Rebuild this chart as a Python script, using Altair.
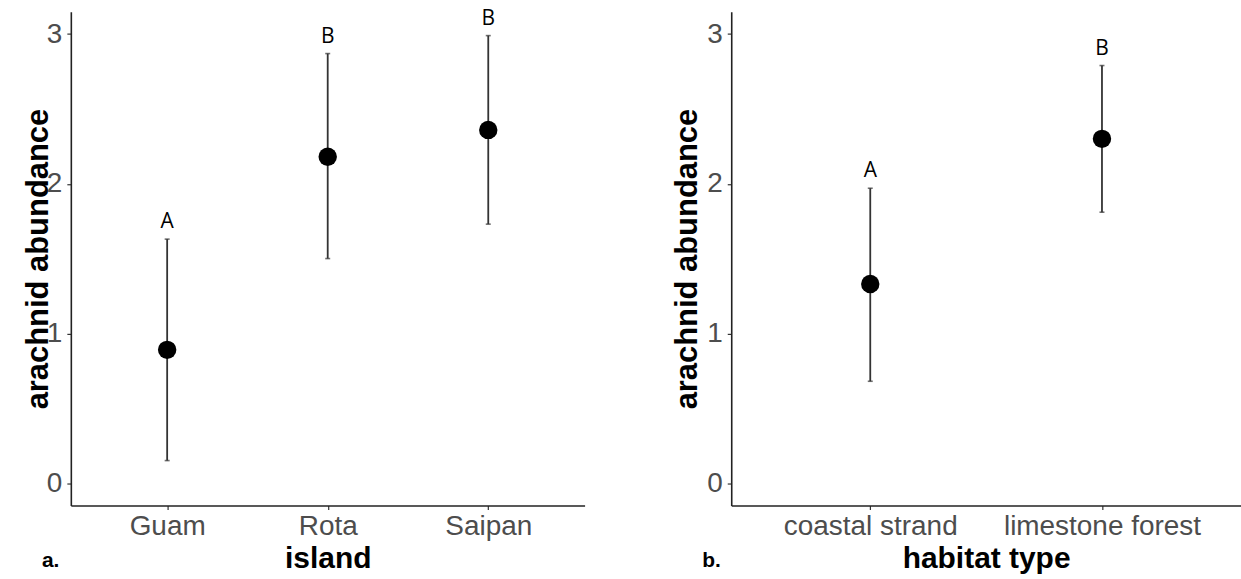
import altair as alt
import pandas as pd

# ---- data ----
islands = ["Guam", "Rota", "Saipan"]
island_mean = [0.89, 2.18, 2.36]
island_lower = [0.15, 1.50, 1.73]
island_upper = [1.63, 2.87, 2.99]
island_letters = ["A", "B", "B"]

habitats = ["coastal strand", "limestone forest"]
habitat_mean = [1.33, 2.30]
habitat_lower = [0.68, 1.81]
habitat_upper = [1.97, 2.79]
habitat_letters = ["A", "B"]

y_ticks = [0, 1, 2, 3]

LABEL_FONT = "Liberation Sans"
H = 495


def panel(cats, mean, lower, upper, letters, xtitle, tag, width, title_x):
    df = pd.DataFrame({"cat": cats, "mean": mean, "lower": lower,
                       "upper": upper, "letter": letters})
    x = alt.X("cat:N", sort=cats,
              scale=alt.Scale(type="point", padding=0.6, domain=cats),
              axis=alt.Axis(title=xtitle, labelAngle=0, labelFontSize=28,
                            labelFont=LABEL_FONT, labelColor="#4D4D4D",
                            labelBaseline="alphabetic", labelPadding=25,
                            labelLimit=0,
                            tickSize=4, tickColor="#333333", tickWidth=1.2,
                            domainColor="#222222", domainWidth=1.6,
                            titleFont=LABEL_FONT, titleFontSize=30,
                            titleFontWeight="bold", titleColor="black",
                            titleBaseline="alphabetic", titleY=62))
    yscale = alt.Scale(domain=[-0.15, 3.15], nice=False, zero=False)
    yaxis = alt.Axis(title="arachnid abundance", values=y_ticks, grid=False,
                     format="d", labelFontSize=28, labelFont=LABEL_FONT,
                     labelColor="#4D4D4D", labelPadding=5,
                     tickSize=4, tickColor="#333333", tickWidth=1.2,
                     domainColor="#222222", domainWidth=1.6,
                     titleFont=LABEL_FONT, titleFontSize=31,
                     titleFontWeight="bold", titleColor="black",
                     titleBaseline="alphabetic", titleX=title_x)
    base = alt.Chart(df)
    rules = base.mark_rule(color="#333333", strokeWidth=1.8).encode(
        x=x, y=alt.Y("lower:Q", scale=yscale, axis=yaxis), y2="upper:Q")
    caps_lo = base.mark_tick(color="#333333", size=5, thickness=1.6).encode(
        x=x, y=alt.Y("lower:Q", scale=yscale))
    caps_hi = base.mark_tick(color="#333333", size=5, thickness=1.6).encode(
        x=x, y=alt.Y("upper:Q", scale=yscale))
    pts = base.mark_point(filled=True, color="black", opacity=1, size=340).encode(
        x=x, y=alt.Y("mean:Q", scale=yscale))
    txt = base.mark_text(font="Open Sans", fontSize=21, color="black",
                         baseline="alphabetic", dy=-11).encode(
        x=x, y=alt.Y("upper:Q", scale=yscale), text="letter:N")
    return alt.layer(rules, caps_lo, caps_hi, pts, txt).properties(
        width=width, height=H,
        title=alt.TitleParams(text=tag, orient="bottom", anchor="start",
                              frame="group", dx=-29, offset=-6,
                              baseline="alphabetic",
                              font=LABEL_FONT, fontSize=21,
                              fontWeight="bold", color="black"))


left = panel(islands, island_mean, island_lower, island_upper,
             island_letters, "island", "a.", 515, -23)
right = panel(habitats, habitat_mean, habitat_lower, habitat_upper,
              habitat_letters, "habitat type", "b.", 511, -35)

chart = alt.hconcat(left, right, spacing=87).properties(
    padding={"left": 23, "top": 6, "right": 0, "bottom": 0},
    background="white",
).configure_view(stroke=None)

chart.save("out.html", embed_options={"renderer": "svg", "actions": False})
